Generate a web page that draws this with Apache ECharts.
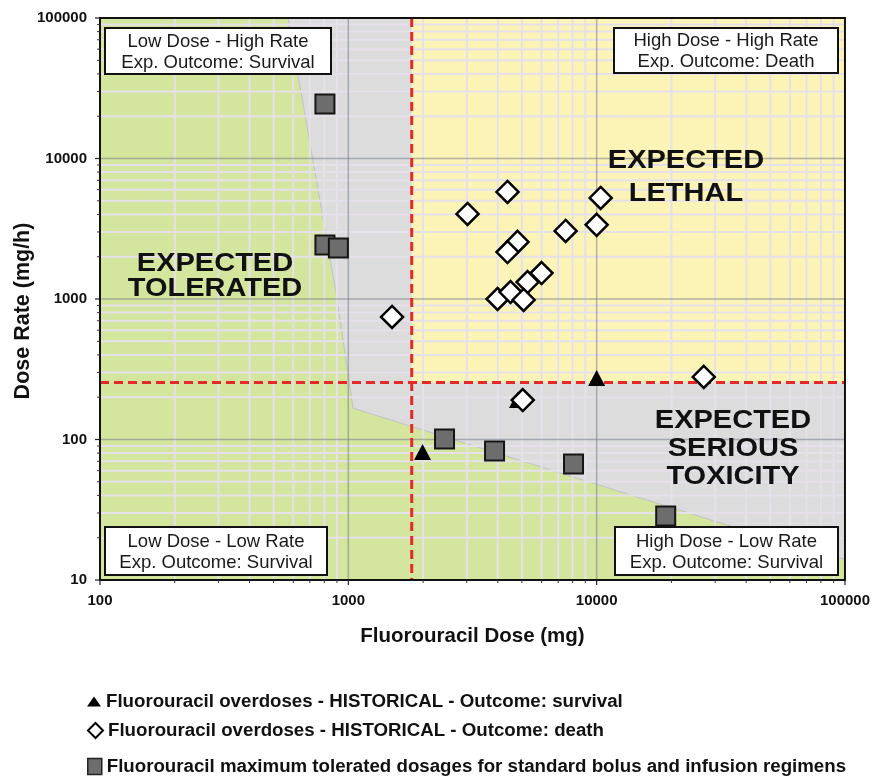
<!DOCTYPE html>
<html>
<head>
<meta charset="utf-8">
<script src="https://cdn.jsdelivr.net/npm/echarts@6/dist/echarts.min.js"></script>
<style>
  html, body { margin: 0; padding: 0; background: #ffffff; }
  #chart { width: 873px; height: 778px; }
</style>
</head>
<body>
<div id="chart"></div>
<script>
// Axis ranges / tick labels (log scales)
const doseTicks = [100, 1000, 10000, 100000];
const rateTicks = [10, 100, 1000, 10000, 100000];

// Thresholds splitting the four dose / rate quadrants
const doseLimit = 1800;   // mg
const rateLimit = 255;    // mg/h

// Edge of the "expected tolerated" zone (left/lower side stays green)
const toleratedEdgeDose = [572, 900, 1045, 35600, 100000];
const toleratedEdgeRate = [100000, 1016, 167, 23.8, 14];

// Historical overdoses, outcome: survival
const survivalDose = [1990, 4800, 10000];
const survivalRate = [81.5, 191, 274];

// Historical overdoses, outcome: death
const deathDose = [1500, 3020, 4375, 10380, 7500, 10000, 4800, 4375, 6000, 5270, 3990, 4500, 5080, 5040, 27000];
const deathRate = [745, 4030, 5780, 5240, 3050, 3370, 2550, 2160, 1530, 1320, 1000, 1120, 985, 191, 279];

// Maximum tolerated dosages for standard bolus and infusion regimens
const mtdDose = [805, 805, 912, 2440, 3880, 8070, 18970];
const mtdRate = [24400, 2420, 2310, 101, 82.8, 67, 28.6];

const seriesNames = [
  'Fluorouracil overdoses - HISTORICAL - Outcome: survival',
  'Fluorouracil overdoses - HISTORICAL - Outcome: death',
  'Fluorouracil maximum tolerated dosages for standard bolus and infusion regimens'
];

const FONT = '"Liberation Sans", Arial, Helvetica, sans-serif';
const GREEN = '#d4e59d';
const GRAY = '#dcdcdc';
const YELLOW = '#fbf4b6';
const MINOR = '#e5e0ea';
const MAJOR = 'rgba(120,125,140,0.55)';
const RED = '#e5292a';

const xMin = doseTicks[0], xMax = doseTicks[doseTicks.length - 1];
const yMin = rateTicks[0], yMax = rateTicks[rateTicks.length - 1];

function minorValues(lo, hi) {
  const out = [];
  for (let d = lo; d < hi; d *= 10) {
    for (let k = 2; k <= 9; k++) out.push(d * k);
  }
  return out;
}

function pairs(xs, ys) {
  return xs.map((x, i) => [x, ys[i]]);
}

// Zones, grid, threshold lines, frame and ticks, all placed through the axes
function renderBackdrop(params, api) {
  const c = (x, y) => api.coord([x, y]);
  const tl = c(xMin, yMax);
  const br = c(xMax, yMin);
  const left = tl[0], top = tl[1], right = br[0], bottom = br[1];
  const kids = [];

  kids.push({ type: 'rect', shape: { x: left, y: top, width: right - left, height: bottom - top },
    style: { fill: GREEN } });

  const edge = toleratedEdgeDose.map((d, i) => c(d, toleratedEdgeRate[i]));
  edge.push(c(xMax, yMax));
  kids.push({ type: 'polygon', shape: { points: edge },
    style: { fill: GRAY, stroke: '#c2c2cc', lineWidth: 1 } });

  const yq = c(doseLimit, rateLimit);
  kids.push({ type: 'rect', shape: { x: yq[0], y: top, width: right - yq[0], height: yq[1] - top },
    style: { fill: YELLOW } });

  const minorX = minorValues(xMin, xMax);
  const minorY = minorValues(yMin, yMax);
  minorX.forEach(v => {
    const px = c(v, yMin)[0];
    kids.push({ type: 'line', shape: { x1: px, y1: top, x2: px, y2: bottom },
      style: { stroke: MINOR, lineWidth: 2 } });
  });
  minorY.forEach(v => {
    const py = c(xMin, v)[1];
    kids.push({ type: 'line', shape: { x1: left, y1: py, x2: right, y2: py },
      style: { stroke: MINOR, lineWidth: 2 } });
  });
  doseTicks.slice(1, -1).forEach(v => {
    const px = c(v, yMin)[0];
    kids.push({ type: 'line', shape: { x1: px, y1: top, x2: px, y2: bottom },
      style: { stroke: MAJOR, lineWidth: 1.5 } });
  });
  rateTicks.slice(1, -1).forEach(v => {
    const py = c(xMin, v)[1];
    kids.push({ type: 'line', shape: { x1: left, y1: py, x2: right, y2: py },
      style: { stroke: MAJOR, lineWidth: 1.5 } });
  });

  // threshold lines
  kids.push({ type: 'line', shape: { x1: yq[0], y1: top, x2: yq[0], y2: bottom },
    style: { stroke: RED, lineWidth: 3, lineDash: [9, 5] } });
  kids.push({ type: 'line', shape: { x1: left, y1: yq[1], x2: right, y2: yq[1] },
    style: { stroke: RED, lineWidth: 3, lineDash: [9, 5] } });

  // frame
  kids.push({ type: 'rect', shape: { x: left, y: top, width: right - left, height: bottom - top },
    style: { fill: null, stroke: '#111', lineWidth: 2 } });

  // ticks
  doseTicks.forEach(v => {
    const px = c(v, yMin)[0];
    kids.push({ type: 'line', shape: { x1: px, y1: bottom, x2: px, y2: bottom + 5 },
      style: { stroke: '#222', lineWidth: 1.2 } });
  });
  minorX.forEach(v => {
    const px = c(v, yMin)[0];
    kids.push({ type: 'line', shape: { x1: px, y1: bottom, x2: px, y2: bottom + 3 },
      style: { stroke: '#333', lineWidth: 1 } });
  });
  rateTicks.forEach(v => {
    const py = c(xMin, v)[1];
    kids.push({ type: 'line', shape: { x1: left - 5, y1: py, x2: left, y2: py },
      style: { stroke: '#222', lineWidth: 1.2 } });
  });
  minorY.forEach(v => {
    const py = c(xMin, v)[1];
    kids.push({ type: 'line', shape: { x1: left - 3, y1: py, x2: left, y2: py },
      style: { stroke: '#333', lineWidth: 1 } });
  });

  return { type: 'group', children: kids };
}

function zoneLabel(text, x, y, lineHeight) {
  return {
    type: 'text', x: x, y: y, z: 20, scaleX: 1.16, silent: true,
    style: { text: text, x: 0, y: 0, align: 'center', verticalAlign: 'middle',
      fontFamily: FONT, fontWeight: 'bold', fontSize: 25, lineHeight: lineHeight, fill: '#111' }
  };
}

// Caption box: a framed white rectangle plus its two-line text
function noteBox(text, x, y, w, h) {
  return [
    { type: 'rect', z: 20, silent: true,
      shape: { x: x, y: y, width: w, height: h },
      style: { fill: '#ffffff', stroke: '#111', lineWidth: 2 } },
    { type: 'text', z: 21, silent: true, x: x + w / 2, y: y + h / 2 + 1,
      style: { text: text, x: 0, y: 0, align: 'center', verticalAlign: 'middle',
        fontFamily: FONT, fontSize: 18.5, lineHeight: 21, fill: '#1a1a1a' } }
  ];
}

function legendRow(name, top, icon, w, h, style) {
  return {
    left: 82, top: top, orient: 'horizontal', selectedMode: false,
    itemWidth: w, itemHeight: h,
    data: [{ name: name, icon: icon, itemStyle: style }],
    textStyle: { fontFamily: FONT, fontWeight: 'bold', fontSize: 18.7, color: '#111' }
  };
}

const chart = echarts.init(document.getElementById('chart'), null, { renderer: 'canvas' });

chart.setOption({
  animation: false,
  backgroundColor: '#ffffff',
  grid: { left: 100, top: 18, right: 28, bottom: 198, containLabel: false },
  xAxis: {
    type: 'log', logBase: 10, min: xMin, max: xMax,
    name: 'Fluorouracil Dose (mg)', nameLocation: 'middle', nameGap: 46,
    nameTextStyle: { fontFamily: FONT, fontWeight: 'bold', fontSize: 20.5, color: '#111' },
    axisLine: { show: false }, axisTick: { show: false }, splitLine: { show: false },
    axisLabel: { margin: 13, fontFamily: FONT, fontWeight: 'bold', fontSize: 15, color: '#111',
      formatter: v => String(Math.round(v)) }
  },
  yAxis: {
    type: 'log', logBase: 10, min: yMin, max: yMax,
    name: 'Dose Rate (mg/h)', nameLocation: 'middle', nameGap: 66, nameRotate: 90,
    nameMoveOverlap: false,
    nameTextStyle: { fontFamily: FONT, fontWeight: 'bold', fontSize: 21.5, color: '#111',
      padding: [0, 24, 0, 0] },
    axisLine: { show: false }, axisTick: { show: false }, splitLine: { show: false },
    axisLabel: { margin: 13, fontFamily: FONT, fontWeight: 'bold', fontSize: 15, color: '#111',
      formatter: v => String(Math.round(v)) }
  },
  legend: [
    legendRow(seriesNames[0], 687, 'triangle', 14, 10, { color: '#000' }),
    legendRow(seriesNames[1], 716, 'diamond', 15, 15, { color: '#fff', borderColor: '#000', borderWidth: 2 }),
    legendRow(seriesNames[2], 752, 'rect', 14, 16, { color: '#6d6d6d', borderColor: '#222', borderWidth: 1.5 })
  ],
  series: [
    {
      type: 'custom', name: 'backdrop', z: 1, silent: true, clip: false,
      data: [[xMin, yMin]], renderItem: renderBackdrop
    },
    {
      type: 'scatter', name: seriesNames[2], z: 5, symbol: 'rect', symbolSize: 19,
      itemStyle: { color: '#6d6d6d', borderColor: '#151515', borderWidth: 2, opacity: 1 },
      emphasis: { disabled: true },
      data: pairs(mtdDose, mtdRate)
    },
    {
      type: 'scatter', name: seriesNames[0], z: 6, symbol: 'triangle', symbolSize: [17, 16],
      itemStyle: { color: '#000', opacity: 1 },
      emphasis: { disabled: true },
      data: pairs(survivalDose, survivalRate)
    },
    {
      type: 'scatter', name: seriesNames[1], z: 7, symbol: 'diamond', symbolSize: 22,
      itemStyle: { color: '#ffffff', borderColor: '#000', borderWidth: 2.5, opacity: 1 },
      emphasis: { disabled: true },
      data: pairs(deathDose, deathRate)
    }
  ],
  graphic: [].concat(
    noteBox('Low Dose - High Rate\nExp. Outcome: Survival', 105, 28, 226, 46),
    noteBox('High Dose - High Rate\nExp. Outcome: Death', 614, 28, 224, 45),
    noteBox('Low Dose - Low Rate\nExp. Outcome: Survival', 105, 527, 222, 48),
    noteBox('High Dose - Low Rate\nExp. Outcome: Survival', 615, 527, 223, 48),
    [
      zoneLabel('EXPECTED\nTOLERATED', 215, 277, 25),
      zoneLabel('EXPECTED\nLETHAL', 686, 178, 33),
      zoneLabel('EXPECTED\nSERIOUS\nTOXICITY', 733, 449, 28)
    ]
  )
});
</script>
</body>
</html>
